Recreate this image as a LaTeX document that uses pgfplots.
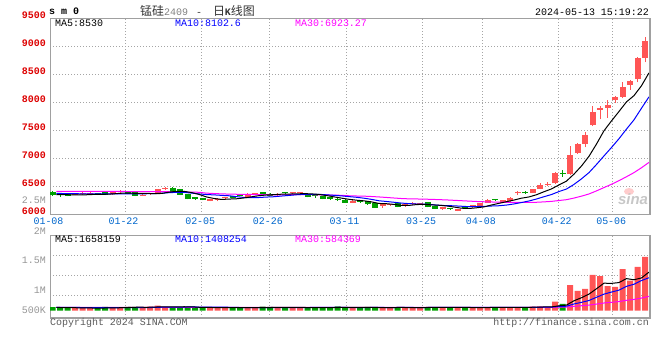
\documentclass[border=0pt]{standalone}
\usepackage{fontspec}
\setmainfont{Liberation Mono}
\setmonofont{Liberation Mono}
\newfontfamily\cjk{Noto Sans CJK SC}
\newfontfamily\sinafont{Liberation Sans}
\usepackage{pgfplots}
\usepackage{pgfplotstable}
\pgfplotsset{compat=1.18}
\definecolor{cUp}{RGB}{255,85,85}
\definecolor{cDn}{RGB}{0,160,0}
\definecolor{cBlue}{RGB}{0,0,255}
\definecolor{cMag}{RGB}{255,0,255}
\definecolor{cAx}{RGB}{160,160,160}
\definecolor{cGrid}{RGB}{165,165,165}
\definecolor{cYlab}{RGB}{221,0,0}
\definecolor{cDate}{RGB}{0,102,204}
\definecolor{cVlab}{RGB}{150,150,150}
\definecolor{cText}{RGB}{90,90,90}

% up candles: index open high low close volume(K)
\pgfplotstableread{
i O H L C V
3 6352 6372 6345 6364 120
4 6372 6402 6355 6378 110
5 6376 6402 6360 6382 110
8 6366 6412 6360 6408 130
9 6402 6440 6395 6432 150
12 6336 6365 6330 6360 130
13 6374 6395 6360 6380 170
14 6378 6455 6370 6450 220
15 6460 6490 6437 6485 160
21 6245 6280 6240 6275 120
22 6262 6290 6240 6270 130
23 6290 6318 6270 6310 140
26 6318 6380 6310 6372 130
27 6372 6390 6355 6378 120
30 6345 6380 6340 6375 140
32 6390 6412 6365 6396 130
33 6380 6400 6360 6385 130
40 6211 6255 6205 6247 120
44 6152 6195 6125 6188 130
45 6170 6195 6160 6188 120
47 6155 6195 6145 6188 130
48 6190 6230 6180 6200 150
49 6180 6215 6170 6211 130
52 6095 6135 6085 6130 140
54 6068 6110 6060 6105 130
56 6130 6170 6125 6165 140
57 6152 6215 6145 6211 140
58 6211 6280 6205 6271 150
60 6205 6265 6200 6259 150
61 6241 6315 6235 6307 150
62 6380 6420 6350 6385 150
64 6390 6455 6385 6450 170
65 6460 6560 6450 6530 190
66 6527 6575 6520 6555 160
67 6558 6770 6550 6740 390
69 6723 7223 6715 7070 1100
70 7104 7280 7090 7259 850
71 7259 7475 7200 7420 935
72 7597 7937 7580 7830 1540
73 7878 7937 7700 7910 1490
74 7907 8045 7735 7950 1060
75 8045 8116 7991 8100 1020
76 8104 8371 8075 8280 1790
77 8325 8402 8230 8390 1290
78 8420 8818 8361 8790 1880
79 8800 9175 8718 9110 2310
}\upC

% down candles
\pgfplotstableread{
i O H L C V
0 6405 6420 6330 6350 150
1 6360 6375 6318 6352 120
2 6366 6375 6325 6336 110
6 6380 6390 6350 6356 110
7 6402 6405 6350 6355 160
10 6408 6415 6365 6370 160
11 6402 6405 6330 6336 160
16 6485 6490 6410 6414 150
17 6455 6460 6350 6355 150
18 6366 6370 6275 6277 160
19 6310 6318 6270 6282 120
20 6295 6300 6255 6259 130
24 6318 6325 6300 6307 130
25 6340 6360 6325 6335 120
28 6402 6410 6360 6366 170
29 6378 6385 6330 6340 160
31 6390 6412 6370 6385 130
34 6378 6385 6310 6318 150
35 6330 6345 6300 6325 120
36 6330 6335 6275 6285 130
37 6310 6318 6270 6283 120
38 6278 6310 6250 6270 190
39 6271 6280 6205 6211 130
41 6235 6250 6215 6230 130
42 6247 6250 6180 6188 160
43 6211 6215 6120 6128 140
46 6200 6205 6130 6140 150
50 6230 6235 6130 6140 150
51 6152 6160 6100 6105 150
53 6110 6125 6085 6100 140
55 6120 6130 6100 6115 130
59 6262 6275 6245 6255 140
63 6414 6420 6375 6380 140
68 6735 6790 6680 6723 290
}\dnC

% price moving averages
\pgfplotstableread{
i M5 M10 M30
0 6360 6380 6415
1 6358 6378 6415
2 6355 6376 6415
3 6355 6374 6415
4 6356 6372 6415
5 6362 6371 6415
6 6363 6370 6415
7 6367 6370 6415
8 6376 6370 6415
9 6387 6371 6415
10 6384 6373 6410
11 6380 6372 6410
12 6381 6374 6410
13 6376 6376 6410
14 6379 6383 6410
15 6402 6393 6410
16 6418 6399 6405
17 6417 6399 6405
18 6396 6386 6405
19 6363 6371 6400
20 6317 6360 6385
21 6290 6354 6378
22 6273 6345 6372
23 6279 6338 6368
24 6284 6323 6365
25 6299 6308 6363
26 6319 6304 6361
27 6340 6307 6359
28 6352 6315 6357
29 6358 6321 6355
30 6366 6333 6355
31 6369 6344 6356
32 6372 6356 6358
33 6376 6364 6359
34 6372 6365 6357
35 6362 6364 6355
36 6342 6355 6353
37 6319 6346 6350
38 6296 6336 6346
39 6275 6323 6338
40 6259 6311 6334
41 6248 6295 6331
42 6229 6274 6325
43 6201 6249 6317
44 6196 6236 6308
45 6184 6222 6298
46 6166 6207 6289
47 6166 6198 6283
48 6181 6191 6281
49 6185 6191 6278
50 6176 6180 6274
51 6169 6168 6269
52 6157 6162 6264
53 6137 6159 6257
54 6116 6151 6250
55 6111 6143 6243
56 6123 6146 6236
57 6139 6148 6231
58 6173 6155 6227
59 6203 6160 6225
60 6232 6172 6221
61 6261 6192 6218
62 6295 6217 6218
63 6317 6245 6218
64 6356 6280 6222
65 6410 6321 6229
66 6460 6360 6238
67 6531 6413 6253
68 6600 6458 6268
69 6724 6540 6297
70 6869 6640 6331
71 7042 6751 6370
72 7260 6896 6425
73 7498 7049 6484
74 7674 7199 6543
75 7842 7356 6607
76 8014 7528 6678
77 8126 7693 6751
78 8302 7900 6838
79 8532 8104 6934
}\maP

% volume moving averages (K)
\pgfplotstableread{
i M5 M10 M30
0 140 140 140
1 135 140 140
2 130 140 140
3 125 138 140
4 122 135 140
5 114 132 140
6 112 130 140
7 122 128 140
8 124 127 140
9 132 127 140
10 142 128 140
11 152 132 140
12 146 134 140
13 154 139 140
14 168 150 141
15 168 155 141
16 166 159 141
17 170 158 141
18 168 161 141
19 148 158 141
20 142 155 141
21 136 151 141
22 132 151 141
23 128 148 141
24 130 139 140
25 128 135 140
26 130 133 140
27 128 130 140
28 134 131 140
29 140 135 140
30 144 136 140
31 144 137 140
32 146 137 140
33 138 136 140
34 136 138 140
35 132 138 140
36 132 138 140
37 130 138 139
38 142 140 139
39 138 137 139
40 138 135 139
41 138 135 139
42 146 138 139
43 136 139 139
44 136 137 138
45 136 137 138
46 140 139 138
47 134 140 138
48 136 136 138
49 136 136 138
50 142 139 138
51 142 141 138
52 144 139 138
53 142 139 138
54 142 139 138
55 138 140 138
56 136 139 138
57 136 140 138
58 138 140 138
59 140 141 138
60 144 141 138
61 146 141 139
62 148 142 140
63 146 142 140
64 152 146 141
65 160 152 143
66 162 154 144
67 210 179 153
68 240 193 156
69 426 289 189
70 558 359 213
71 713 438 240
72 943 577 286
73 1183 712 331
74 1175 801 362
75 1209 884 392
76 1380 1047 447
77 1330 1137 485
78 1408 1296 543
79 1658 1417 616
}\maV

\pgfplotsset{
  kbase/.style={
    scale only axis, width=600bp, anchor=south west,
    xmin=-0.36, xmax=79.64,
    xtick={-0.36,9.64,19.87,28.88,39.11,49.33,57.28,67.41,74.67},
    major tick length=0pt,
    grid=major,
    major grid style={draw=cGrid, line width=0.8bp, dash pattern=on 1bp off 2bp},
    axis line style={draw=cAx, line width=1bp},
    tick label style={font=\fontsize{10}{12}\selectfont},
  },
  wick/.style={draw=none, mark=none, forget plot,
    error bars/.cd, y dir=plus, y explicit, error mark=none,
    error bar style={line width=1bp, draw=#1, solid}},
  body/.style={draw=none, mark=none, forget plot,
    error bars/.cd, y dir=plus, y explicit, error mark=none,
    error bar style={line width=6bp, draw=#1, solid}},
  maline/.style={mark=none, line width=1bp, draw=#1, forget plot},
}

\begin{document}
\begin{tikzpicture}[font=\fontsize{10}{12}\selectfont]
\path[use as bounding box] (0bp,0bp) rectangle (660bp,360bp);

% ---------- price panel ----------
\begin{axis}[kbase, at={(50bp,145.3bp)}, height=196bp,
  ymin=6000, ymax=9500,
  ytick={6000,6500,7000,7500,8000,8500,9000,9500},
  yticklabels={6000,6500,7000,7500,8000,8500,9000,9500},
  xticklabels={01-08,01-22,02-05,02-26,03-11,03-25,04-08,04-22,05-06},
  yticklabel style={font=\bfseries\fontsize{10}{12}\selectfont, text=cYlab, anchor=base east, inner sep=0pt, xshift=-4bp},
  xticklabel style={text=cDate, anchor=base, inner sep=0pt, yshift=-10bp, xshift=-1.5bp},
]
\addplot[wick=cUp] table[x=i, y=L, y error plus expr={\thisrow{H}-\thisrow{L}}] {\upC};
\addplot[wick=cDn] table[x=i, y=L, y error plus expr={\thisrow{H}-\thisrow{L}}] {\dnC};
\addplot[body=cUp] table[x=i, y=O, y error plus expr={max(\thisrow{C}-\thisrow{O},18)}] {\upC};
\addplot[body=cDn] table[x=i, y=C, y error plus expr={max(\thisrow{O}-\thisrow{C},18)}] {\dnC};
\addplot[maline=cMag] table[x expr=\thisrow{i}+0.5, y=M30] {\maP};
\addplot[maline=cBlue] table[x expr=\thisrow{i}+0.5, y=M10] {\maP};
\addplot[maline=black] table[x expr=\thisrow{i}+0.5, y=M5] {\maP};
\draw[cAx, line width=2bp] (rel axis cs:0,0) -- (rel axis cs:1,0) -- (rel axis cs:1,1);
\end{axis}

% ---------- volume panel ----------
\begin{axis}[kbase, at={(50bp,42bp)}, height=82.5bp,
  ymin=-314, ymax=3234,
  ytick={645,1505,2365}, yticklabels={},
  xticklabels={},
]
\addplot[ybar, bar width=6bp, bar shift=0pt, fill=cUp, draw=none, forget plot] table[x=i, y=V] {\upC};
\addplot[ybar, bar width=6bp, bar shift=0pt, fill=cDn, draw=none, forget plot] table[x=i, y=V] {\dnC};
\addplot[maline=cMag] table[x expr=\thisrow{i}+0.5, y=M30] {\maV};
\addplot[maline=cBlue] table[x expr=\thisrow{i}+0.5, y=M10] {\maV};
\addplot[maline=black] table[x expr=\thisrow{i}+0.5, y=M5] {\maV};
\draw[cAx, line width=2bp] (rel axis cs:0,0) -- (rel axis cs:1,0) -- (rel axis cs:1,1);
\end{axis}

% ---------- texts ----------
\begin{scope}[x=1bp, y=1bp]
\node[anchor=west, inner sep=0pt] at (49,349) {\bfseries s m 0};
\node[anchor=west, inner sep=0pt, text=black!80] at (140,349.5)
  {{\cjk\fontsize{12}{14}\selectfont 锰硅}{\color{gray}2409}\hspace{8bp}-\hspace{11bp}{\cjk\fontsize{12}{14}\selectfont 日}{\bfseries K}{\cjk\fontsize{12}{14}\selectfont 线图}};
\node[anchor=east, inner sep=0pt] at (649,348) {2024-05-13 15:19:22};

\node[anchor=west, inner sep=0pt] at (55,336.5) {MA5:8530};
\node[anchor=west, inner sep=0pt, text=cBlue] at (175,336.5) {MA10:8102.6};
\node[anchor=west, inner sep=0pt, text=cMag] at (295,336.5) {MA30:6923.27};

\node[anchor=west, inner sep=0pt] at (55,121) {MA5:1658159};
\node[anchor=west, inner sep=0pt, text=cBlue] at (175,121) {MA10:1408254};
\node[anchor=west, inner sep=0pt, text=cMag] at (295,121) {MA30:584369};

\node[anchor=east, inner sep=0pt, text=cVlab] at (46,160) {2.5M};
\node[anchor=east, inner sep=0pt, text=cVlab] at (46,128.7) {2M};
\node[anchor=east, inner sep=0pt, text=cVlab] at (46,99.7) {1.5M};
\node[anchor=east, inner sep=0pt, text=cVlab] at (46,69.7) {1M};
\node[anchor=east, inner sep=0pt, text=cVlab] at (46,49.7) {500K};

\node[anchor=west, inner sep=0pt, text=cText] at (50,37) {Copyright 2024 SINA.COM};
\node[anchor=east, inner sep=0pt, text=cText] at (649,37) {http://finance.sina.com.cn};

% watermark
\fill[red!20] (629,168.5) ellipse (5 and 3.5);
\node[inner sep=0pt, text=black!22] at (633,160.5) {\sinafont\bfseries\itshape\fontsize{15}{16}\selectfont sina};
\end{scope}
\end{tikzpicture}
\end{document}
